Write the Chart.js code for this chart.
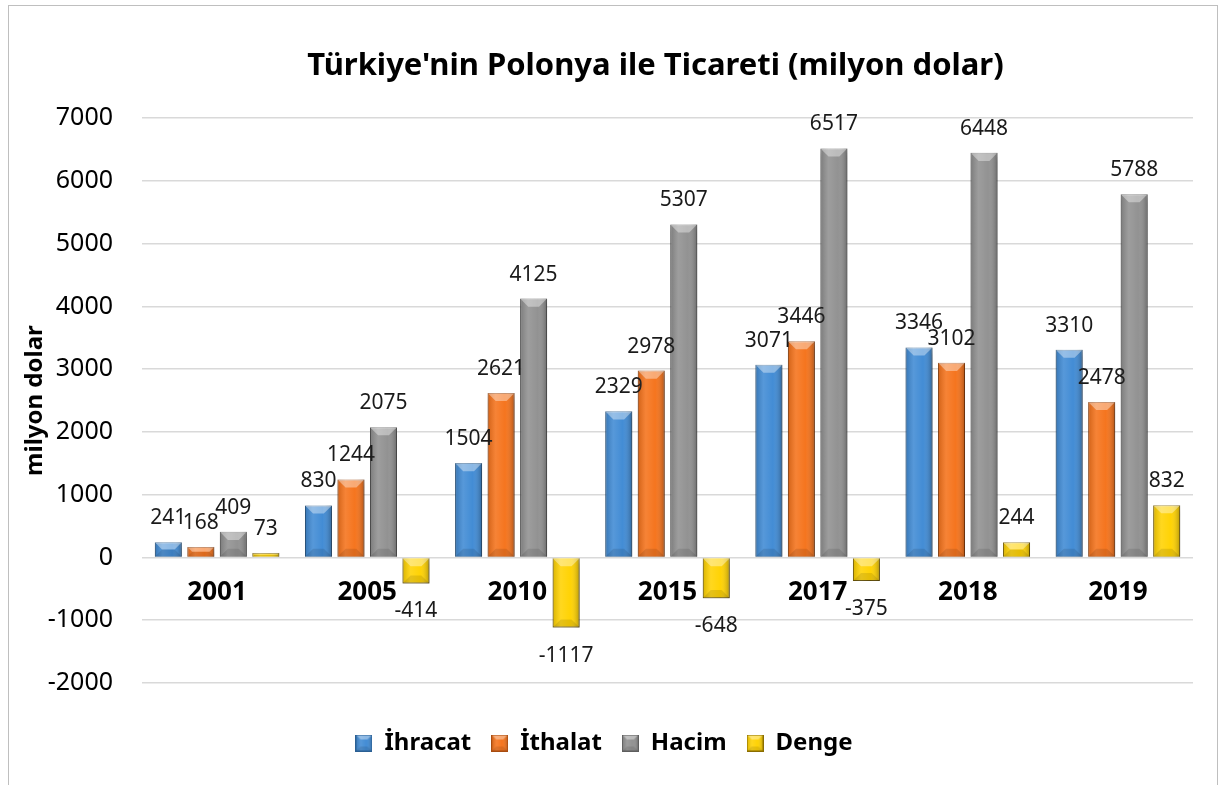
<!DOCTYPE html>
<html>
<head>
<meta charset="utf-8">
<script src="https://cdn.jsdelivr.net/npm/chart.js@4.4.1/dist/chart.umd.min.js"></script>
<style>
html, body { margin: 0; padding: 0; background: #fff; }
#frame { position: absolute; left: 8px; top: 5px; width: 1208px; height: 800px; border: 1px solid #bfbfbf; }
#wrap { position: absolute; left: 0; top: 0; width: 1219px; height: 785px; }
</style>
</head>
<body>
<div id="frame"></div>
<div id="wrap"><canvas id="ticaret"></canvas></div>
<script>
var years = ["2001", "2005", "2010", "2015", "2017", "2018", "2019"];
var ihracat = [241, 830, 1504, 2329, 3071, 3346, 3310];
var ithalat = [168, 1244, 2621, 2978, 3446, 3102, 2478];
var hacim = [409, 2075, 4125, 5307, 6517, 6448, 5788];
var denge = [73, -414, -1117, -648, -375, 244, 832];
var seriesNames = ["İhracat", "İthalat", "Hacim", "Denge"];
var yTicks = [-2000, -1000, 0, 1000, 2000, 3000, 4000, 5000, 6000, 7000];

var fontFam = "'Noto Sans', 'Open Sans', sans-serif";

// kabartma efekti (çubuk ve lejant kutusu için ortak)
function bevel(c, left, top, w, h) {
    var right = left + w, bottom = top + h;
    var g = c.createLinearGradient(left, 0, right, 0);
    g.addColorStop(0, 'rgba(0,0,0,0.15)');
    g.addColorStop(0.3, 'rgba(255,255,255,0.12)');
    g.addColorStop(0.65, 'rgba(255,255,255,0.02)');
    g.addColorStop(1, 'rgba(0,0,0,0.28)');
    c.fillStyle = g;
    c.fillRect(left, top, w, h);
    var b = Math.min(w * 0.3, h / 2);
    c.beginPath();
    c.moveTo(left, top); c.lineTo(right, top);
    c.lineTo(right - b, top + b); c.lineTo(left + b, top + b);
    c.closePath();
    c.fillStyle = 'rgba(255,255,255,0.38)';
    c.fill();
    c.beginPath();
    c.moveTo(left, bottom); c.lineTo(right, bottom);
    c.lineTo(right - b, bottom - b); c.lineTo(left + b, bottom - b);
    c.closePath();
    c.fillStyle = 'rgba(0,0,0,0.10)';
    c.fill();
}

function makeBox(fill, edge) {
    var cv = document.createElement('canvas');
    cv.width = 17; cv.height = 17;
    var c = cv.getContext('2d');
    c.fillStyle = fill;
    c.fillRect(0, 0, 17, 17);
    bevel(c, 0, 0, 17, 17);
    c.strokeStyle = edge;
    c.lineWidth = 1;
    c.strokeRect(0.5, 0.5, 16, 16);
    return cv;
}

function makeSet(label, data, fill, edge) {
    return {
        label: label,
        data: data,
        backgroundColor: fill,
        borderColor: edge,
        borderWidth: 1,
        pointStyle: makeBox(fill, edge),
        categoryPercentage: 0.866,
        barPercentage: 0.83
    };
}

var barStyle = {
    id: 'barStyle',
    afterLayout: function (chart) {
        // başlık çizim alanının ortasına gelsin
        var t = chart.titleBlock;
        if (t) { t.left = chart.chartArea.left - 24; t.right = chart.chartArea.right; }
    },
    beforeDatasetsDraw: function (chart) {
        var c = chart.ctx;
        c.save();
        c.shadowColor = 'rgba(0,0,0,0.30)';
        c.shadowBlur = 6;
        c.shadowOffsetX = 1;
        c.shadowOffsetY = 4;
    },
    afterDatasetsDraw: function (chart) {
        var c = chart.ctx;
        c.restore();
        chart.data.datasets.forEach(function (ds, di) {
            var meta = chart.getDatasetMeta(di);
            meta.data.forEach(function (el, i) {
                var p = el.getProps(['x', 'y', 'base', 'width'], true);
                var left = p.x - p.width / 2;
                var top = Math.min(p.y, p.base), bottom = Math.max(p.y, p.base);
                c.save();
                bevel(c, left, top, p.width, bottom - top);
                c.restore();

                var v = ds.data[i];
                c.save();
                c.font = '21px ' + fontFam;
                c.fillStyle = '#1a1a1a';
                c.textAlign = 'center';
                c.textBaseline = 'middle';
                if (v >= 0) c.fillText(String(v), p.x, top - 24);
                else c.fillText(String(v), p.x, bottom + 28);
                c.restore();
            });
        });
    }
};

var ctx = document.getElementById('ticaret').getContext('2d');
var chart = new Chart(ctx, {
    type: 'bar',
    data: {
        labels: years,
        datasets: [
            makeSet(seriesNames[0], ihracat, '#3f8ad4', '#2a5f93'),
            makeSet(seriesNames[1], ithalat, '#f5721a', '#a84c10'),
            makeSet(seriesNames[2], hacim, '#909090', '#5e5e5e'),
            makeSet(seriesNames[3], denge, '#ffd200', '#8a6d00')
        ]
    },
    options: {
        responsive: true,
        maintainAspectRatio: false,
        animation: false,
        layout: { padding: { left: 15, right: 26, top: 30, bottom: 20 } },
        plugins: {
            title: {
                display: true,
                text: "Türkiye'nin Polonya ile Ticareti (milyon dolar)",
                color: '#000',
                font: { family: fontFam, size: 31, weight: 'bold' },
                padding: { top: 18, bottom: 33 }
            },
            legend: {
                position: 'bottom',
                title: { display: true, text: '', font: { size: 10 }, padding: { top: 16, bottom: 0 } },
                labels: {
                    color: '#000',
                    font: { family: fontFam, size: 24, weight: 'bold' },
                    usePointStyle: true,
                    boxWidth: 17,
                    boxHeight: 17,
                    padding: 20
                }
            },
            tooltip: { enabled: false }
        },
        scales: {
            x: {
                position: { y: 0 },
                grid: { display: false, drawTicks: false },
                border: { display: false },
                ticks: { color: '#000', font: { family: fontFam, size: 26, weight: 'bold' }, padding: 20 }
            },
            y: {
                min: yTicks[0],
                max: yTicks[yTicks.length - 1],
                afterBuildTicks: function (s) { s.ticks = yTicks.map(function (v) { return { value: v }; }); },
                afterFit: function (s) { s.width = 127; },
                grid: { color: '#d9d9d9', lineWidth: 1.5, drawTicks: false },
                border: { display: false },
                ticks: {
                    color: '#000',
                    font: { family: fontFam, size: 25 },
                    padding: 29,
                    callback: function (v) { return String(v); }
                },
                title: {
                    display: true,
                    text: 'milyon dolar',
                    color: '#000',
                    font: { family: fontFam, size: 24, weight: 'bold' },
                    padding: { top: 6, bottom: 0 }
                }
            }
        }
    },
    plugins: [barStyle]
});
</script>
</body>
</html>
